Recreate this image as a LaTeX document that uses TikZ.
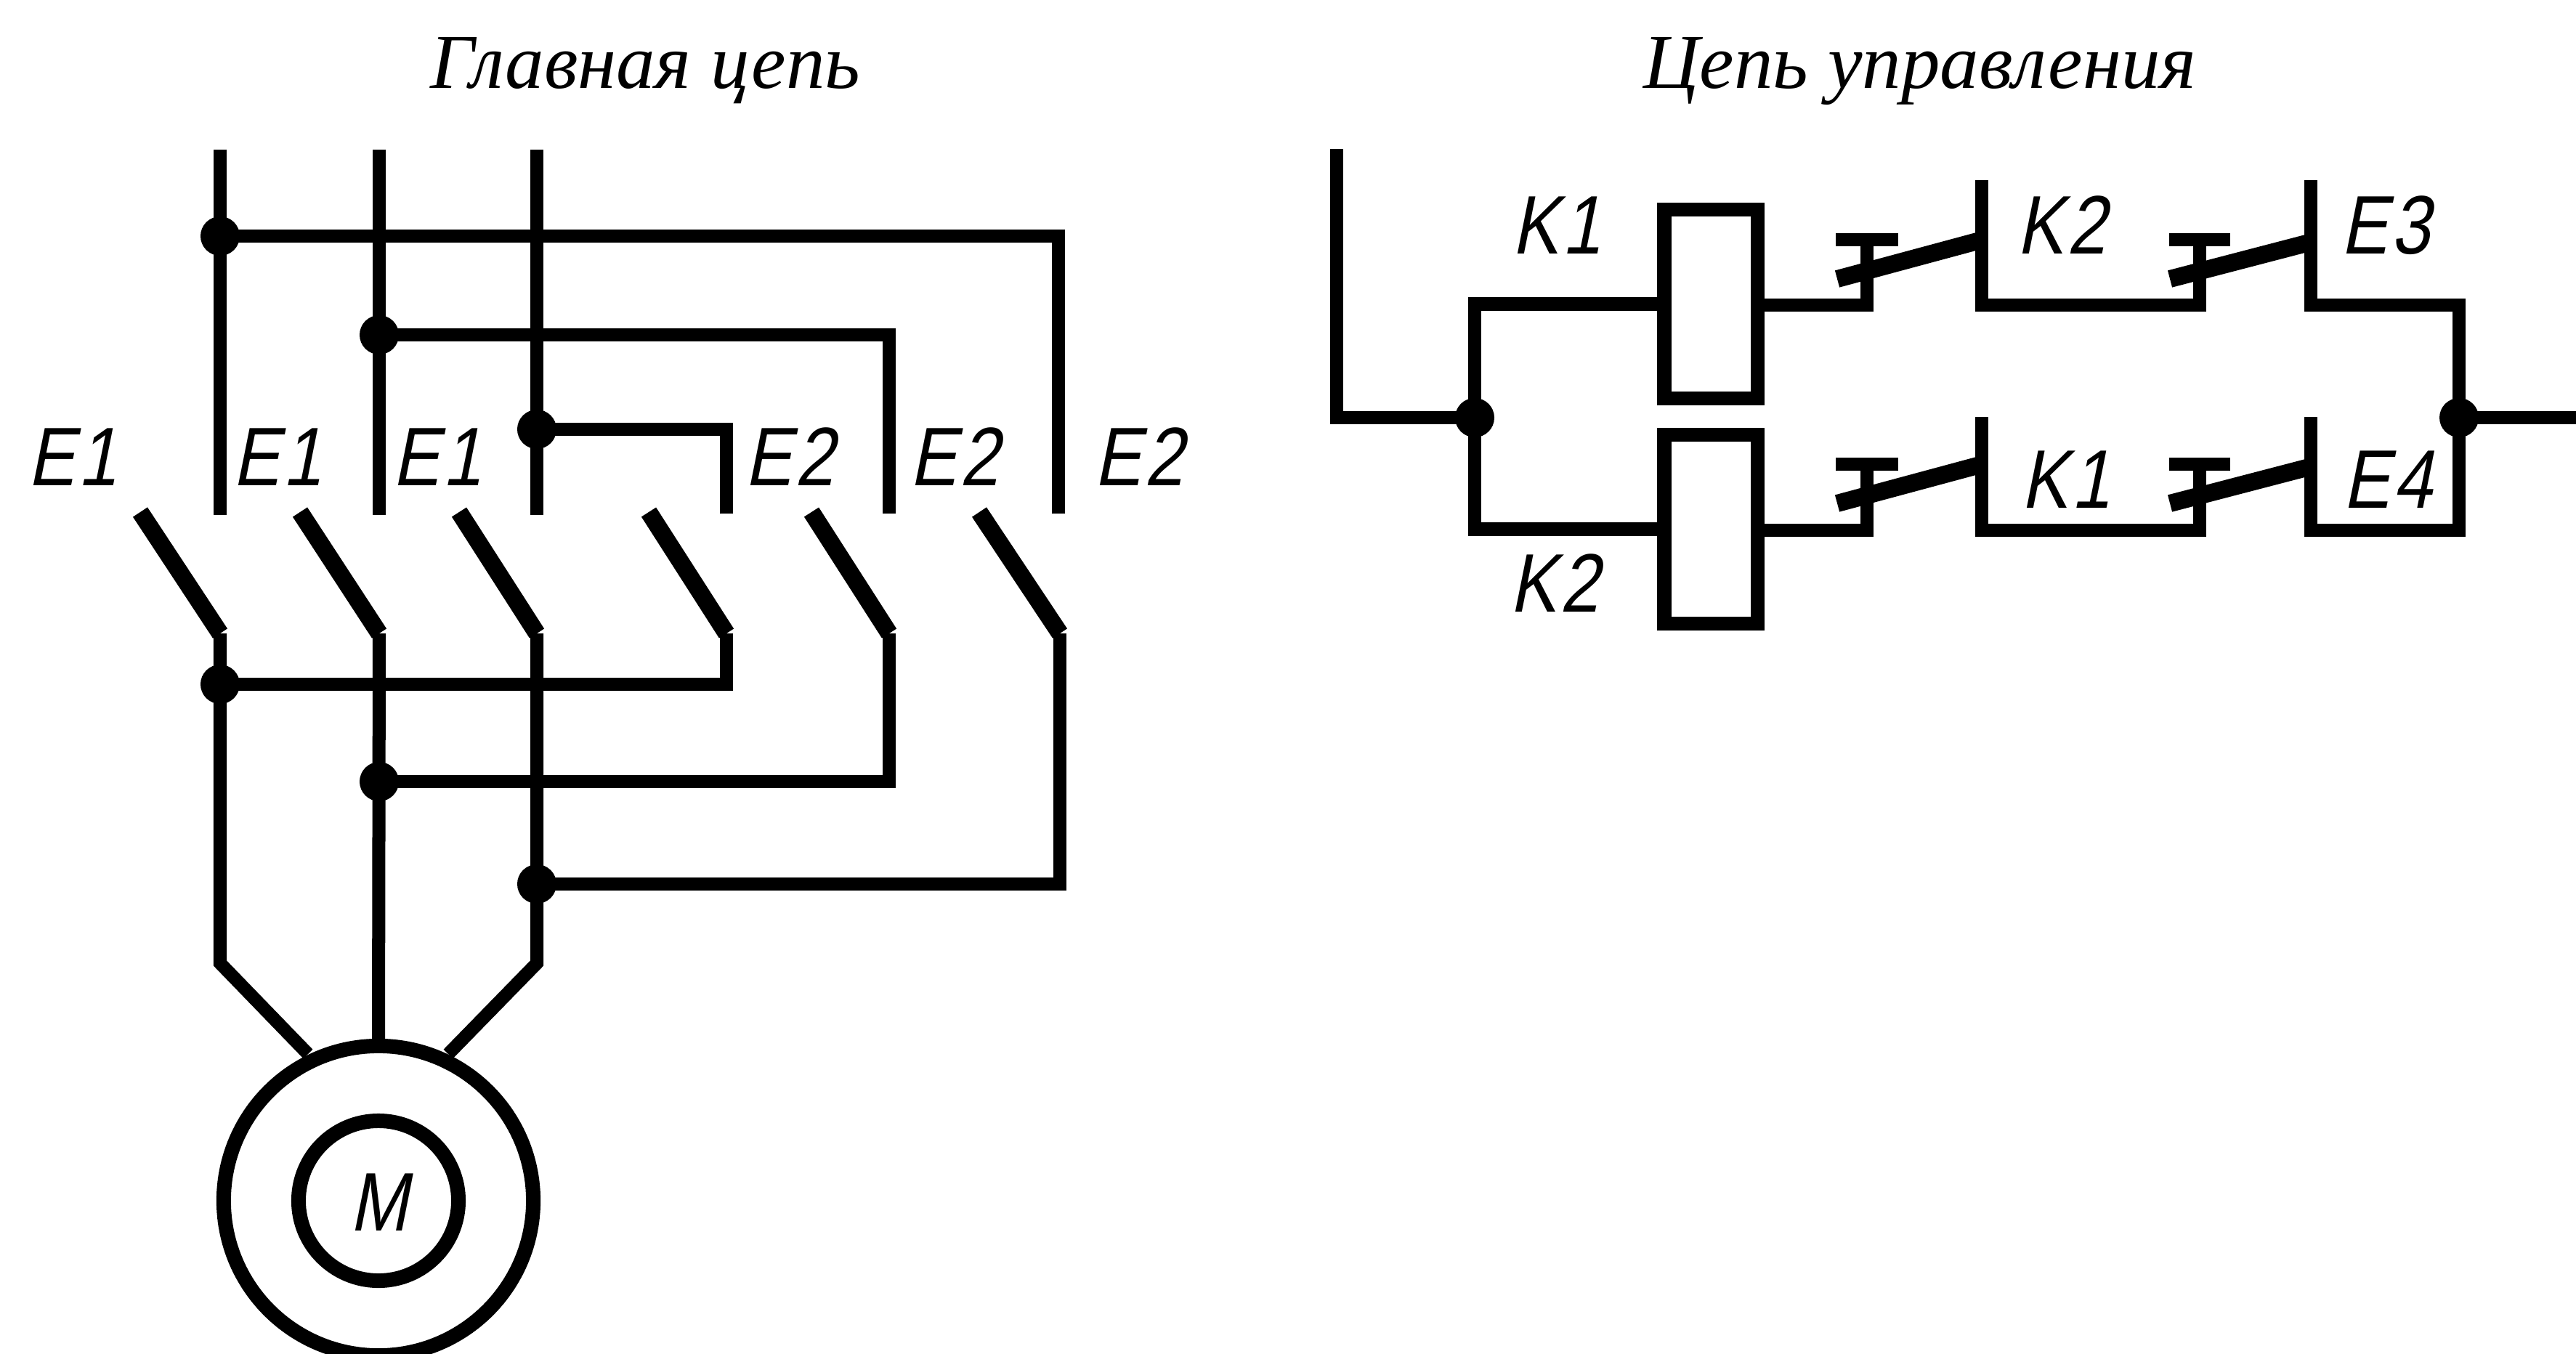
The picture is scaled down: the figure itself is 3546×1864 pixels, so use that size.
\documentclass[tikz,border=0pt]{standalone}
\usepackage{fontspec}
\newfontfamily\gostfont[FakeSlant=0.2,FakeStretch=0.84,LetterSpace=4]{Liberation Sans}
\newfontfamily\titlefont{Liberation Serif}
\tikzset{
  wire/.style={line width=0.18cm,line join=miter,line cap=butt},
  blade/.style={line width=0.24cm,line cap=butt},
  jdot/.style={circle,fill=black,inner sep=0pt,minimum size=0.54cm},
  coilbox/.style={draw,line width=0.19cm,inner sep=0pt,minimum width=1.28cm,minimum height=2.59cm},
  mring/.style={draw,circle,line width=0.2cm,inner sep=0pt},
  lab/.style={anchor=base west,inner sep=0pt,font=\gostfont\fontsize{32.5}{36}\selectfont},
  ttl/.style={anchor=base west,inner sep=0pt,font=\titlefont\itshape\fontsize{30.4}{36}\selectfont}
}
\begin{document}
\begin{tikzpicture}[x=0.01cm,y=-0.01cm]
\useasboundingbox (0,0) rectangle (3546,1864);
% titles
\node[ttl] (t1) at (592,122) {Главная цепь};
\node[ttl] (t2) at (2262,122) {Цепь управления};
% main circuit coordinates
\coordinate (b1t) at (303,206); \coordinate (b1b) at (303,709);
\coordinate (b2t) at (522,206); \coordinate (b2b) at (522,709);
\coordinate (b3t) at (739,206); \coordinate (b3b) at (739,709);
\node[jdot] (ja) at (303,325) {};
\node[jdot] (jb) at (522,461) {};
\node[jdot] (jc) at (739,591) {};
\coordinate (ca) at (1457,325); \coordinate (ea) at (1457,707);
\coordinate (cb) at (1224,461); \coordinate (eb) at (1224,707);
\coordinate (cc) at (1000,591); \coordinate (ec) at (1000,707);
\draw[wire] (b1t) -- (b1b);
\draw[wire] (b2t) -- (b2b);
\draw[wire] (b3t) -- (b3b);
\draw[wire] (ja.center) -- (ca) -- (ea);
\draw[wire] (jb.center) -- (cb) -- (eb);
\draw[wire] (jc.center) -- (cc) -- (ec);
% switches
\coordinate (s1t) at (193,705); \coordinate (s1b) at (303,872);
\coordinate (s2t) at (413,705); \coordinate (s2b) at (522,872);
\coordinate (s3t) at (632,705); \coordinate (s3b) at (739,872);
\coordinate (s4t) at (893,705); \coordinate (s4b) at (1000,872);
\coordinate (s5t) at (1117,705); \coordinate (s5b) at (1224,872);
\coordinate (s6t) at (1348,705); \coordinate (s6b) at (1459,872);
\draw[blade] (s1t) -- (s1b);
\draw[blade] (s2t) -- (s2b);
\draw[blade] (s3t) -- (s3b);
\draw[blade] (s4t) -- (s4b);
\draw[blade] (s5t) -- (s5b);
\draw[blade] (s6t) -- (s6b);
% lower junctions and motor
\node[jdot] (jd) at (303,942) {};
\node[jdot] (je) at (522,1076) {};
\node[jdot] (jf) at (739,1217) {};
\node[mring,minimum size=4.26cm] (mo) at (521,1653) {};
\node[mring,minimum size=2.2cm] (mi) at (521,1653) {};
\node[lab,anchor=base,font=\gostfont\fontsize{32.5}{36}\selectfont] (ml) at (521,1694) {M};
\coordinate (d1) at (303,1326); \coordinate (d1e) at (424,1451);
\coordinate (d3) at (739,1326); \coordinate (d3e) at (617,1451);
\coordinate (k1) at (1000,942); \coordinate (k2) at (1224,1076); \coordinate (k3) at (1459,1217);
\draw[wire] (s1b) -- (d1) -- (d1e);
\draw[wire] (s2b) -- (mo.north);
\draw[wire] (s3b) -- (d3) -- (d3e);
\draw[wire] (s4b) -- (k1) -- (jd.center);
\draw[wire] (s5b) -- (k2) -- (je.center);
\draw[wire] (s6b) -- (k3) -- (jf.center);
% main labels
\node[lab] (l1) at (38,668) {E1};
\node[lab] (l2) at (320,668) {E1};
\node[lab] (l3) at (540,668) {E1};
\node[lab] (l4) at (1025,668) {E2};
\node[lab] (l5) at (1252,668) {E2};
\node[lab] (l6) at (1506,668) {E2};
% control circuit
\node[jdot] (jl) at (2030,575) {};
\node[jdot] (jr) at (3385,575) {};
\node[coilbox] (c1) at (2355,418.5) {};
\node[coilbox] (c2) at (2355,728.5) {};
\coordinate (in) at (1840,205); \coordinate (inc) at (1840,575);
\coordinate (out) at (3546,575);
\draw[wire] (in) -- (inc) -- (jl.center);
\draw[wire] (jr.center) -- (out);
\draw[wire] (c1.west) -| (jl.center);
\draw[wire] (c2.west) -| (jl.center);
% upper branch
\coordinate (a1) at (2570,420); \coordinate (a1t) at (2570,330);
\coordinate (a2) at (2728,420); \coordinate (a2t) at (2728,248);
\coordinate (a3) at (3028,420); \coordinate (a3t) at (3028,330);
\coordinate (a4) at (3181,420); \coordinate (a4t) at (3181,248);
\coordinate (a5) at (3385,420);
\coordinate (ab1l) at (2527,330); \coordinate (ab1r) at (2613,330);
\coordinate (ab2l) at (2986,330); \coordinate (ab2r) at (3070,330);
\coordinate (ad1a) at (2529,384); \coordinate (ad1b) at (2722,332);
\coordinate (ad2a) at (2987,384); \coordinate (ad2b) at (3175,335);
\draw[wire] (c1.east |- a1) -- (a1) -- (a1t);
\draw[wire] (ab1l) -- (ab1r);
\draw[blade] (ad1a) -- (ad1b);
\draw[wire] (a2t) -- (a2) -- (a3) -- (a3t);
\draw[wire] (ab2l) -- (ab2r);
\draw[blade] (ad2a) -- (ad2b);
\draw[wire] (a4t) -- (a4) -- (a5) -- (jr.center);
% lower branch
\coordinate (e1) at (2570,730); \coordinate (e1t) at (2570,639);
\coordinate (e2) at (2728,730); \coordinate (e2t) at (2728,574);
\coordinate (e3) at (3028,730); \coordinate (e3t) at (3028,639);
\coordinate (e4) at (3181,730); \coordinate (e4t) at (3181,574);
\coordinate (e5) at (3385,730);
\coordinate (eb1l) at (2527,639); \coordinate (eb1r) at (2613,639);
\coordinate (eb2l) at (2986,639); \coordinate (eb2r) at (3070,639);
\coordinate (ed1a) at (2529,693); \coordinate (ed1b) at (2722,641);
\coordinate (ed2a) at (2987,693); \coordinate (ed2b) at (3175,644);
\draw[wire] (c2.east |- e1) -- (e1) -- (e1t);
\draw[wire] (eb1l) -- (eb1r);
\draw[blade] (ed1a) -- (ed1b);
\draw[wire] (e2t) -- (e2) -- (e3) -- (e3t);
\draw[wire] (eb2l) -- (eb2r);
\draw[blade] (ed2a) -- (ed2b);
\draw[wire] (e4t) -- (e4) -- (e5) -- (jr.center);
% control labels
\node[lab] (l7) at (2081,350) {K1};
\node[lab] (l8) at (2776,350) {K2};
\node[lab] (l9) at (3222,350) {E3};
\node[lab] (l10) at (2078,842) {K2};
\node[lab] (l11) at (2782,699) {K1};
\node[lab] (l12) at (3225,699) {E4};
\end{tikzpicture}
\end{document}
